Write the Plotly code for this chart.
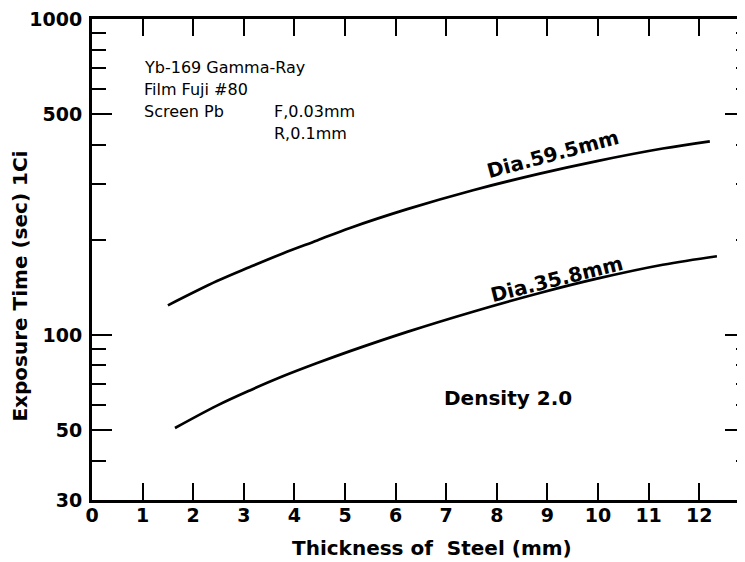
import plotly.graph_objects as go
import math

# Data
thick_595 = [1.50, 2.47, 3.12, 3.77, 4.45, 5.10, 6.23, 7.53, 8.85, 9.98, 11.28, 12.21]
time_595 = [124, 148, 164, 181, 199, 218, 250, 287, 324, 355, 389, 410]

thick_358 = [1.64, 2.47, 3.12, 3.77, 4.45, 5.10, 6.23, 7.53, 8.85, 9.98, 11.28, 12.35]
time_358 = [50.7, 59.7, 66.7, 73.9, 81.4, 88.8, 102.2, 118.4, 135.7, 150.6, 166.7, 177.4]

x_ticks = list(range(0, 13))
y_major = [30, 50, 100, 500, 1000]
y_major_labels = ["30", "50", "100", "500", "1000"]
y_minor = [40, 60, 70, 80, 90, 200, 300, 400, 600, 700, 800, 900]

FONT = "DejaVu Sans"
BOLD = dict(family=FONT, size=19, color="black", weight="bold")

fig = go.Figure()
fig.add_trace(go.Scatter(x=thick_595, y=time_595, mode="lines",
                         line=dict(color="black", width=2.7, shape="spline", smoothing=1.0),
                         showlegend=False, hoverinfo="skip"))
fig.add_trace(go.Scatter(x=thick_358, y=time_358, mode="lines",
                         line=dict(color="black", width=2.7, shape="spline", smoothing=1.0),
                         showlegend=False, hoverinfo="skip"))
# invisible trace to anchor the right-hand tick axis
fig.add_trace(go.Scatter(x=thick_595, y=time_595, mode="lines", yaxis="y2",
                         line=dict(color="rgba(0,0,0,0)", width=0),
                         showlegend=False, hoverinfo="skip"))

yrange = [math.log10(30), 3]

fig.update_layout(
    width=737, height=554,
    margin=dict(l=84, r=0, t=6, b=62),
    paper_bgcolor="white", plot_bgcolor="white",
    xaxis=dict(range=[0, 12.905], tickvals=x_ticks, ticktext=[str(v) for v in x_ticks],
               ticks="inside", ticklen=17, tickwidth=2, tickcolor="black",
               showline=True, linewidth=3, linecolor="black", mirror="ticks",
               showgrid=False, zeroline=False, tickfont=BOLD, ticklabelstandoff=-4,
               ticklabeloverflow="allow"),
    yaxis=dict(type="log", range=yrange, tickvals=y_major, ticktext=y_major_labels,
               ticks="inside", ticklen=20, tickwidth=2, tickcolor="black",
               showline=True, linewidth=3, linecolor="black",
               showgrid=False, zeroline=False, tickfont=BOLD, ticklabelstandoff=3,
               ticklabeloverflow="allow",
               minor=dict(tickvals=y_minor, ticks="inside", ticklen=14, tickwidth=2,
                          tickcolor="black", showgrid=False)),
    yaxis2=dict(type="log", range=yrange, overlaying="y", side="right",
                tickvals=[50, 100, 500], ticks="inside", ticklen=20, tickwidth=2,
                tickcolor="black", showticklabels=False, showline=False,
                showgrid=False, zeroline=False,
                minor=dict(tickvals=y_minor, ticks="inside", ticklen=9, tickwidth=2,
                           tickcolor="black", showgrid=False)),
)

def ann(text, x, y, size, xanchor="left", angle=0, weight="normal", xref="x", yref="y"):
    fig.add_annotation(text=text, x=x, y=y, xref=xref, yref=yref, showarrow=False,
                       xanchor=xanchor, yanchor="middle", textangle=angle,
                       font=dict(family=FONT, size=size, color="black", weight=weight))

# info block (y given as log10 values on the log axis)
ann("Yb-169 Gamma-Ray", 0.988, 2.846, 16)
ann("Film Fuji #80", 0.988, 2.777, 16)
ann("Screen Pb", 0.988, 2.708, 16)
ann("F,0.03mm", 3.557, 2.708, 16)
ann("R,0.1mm", 3.557, 2.639, 16)

ann("Density 2.0", 6.917, 1.799, 20, weight="bold")
ann("Dia.59.5mm", 9.11, 2.574, 20, xanchor="center", angle=-15, weight="bold")
ann("Dia.35.8mm", 9.19, 2.176, 20, xanchor="center", angle=-14, weight="bold")

# axis titles
ann("Thickness of  Steel (mm)", 6.72, -0.100, 20, xanchor="center", weight="bold", yref="paper")
ann("Exposure Time (sec) 1Ci", -0.110, 0.444, 20, xanchor="center", angle=-90, weight="bold",
    xref="paper", yref="paper")

fig.write_html("out.html")
